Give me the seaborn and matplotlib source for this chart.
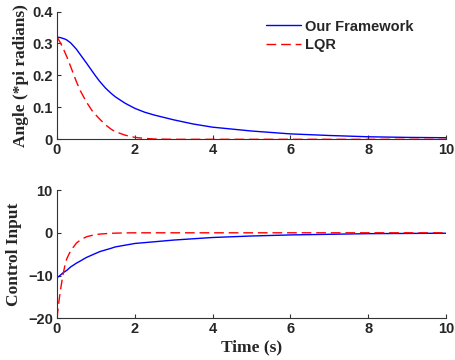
"""Pendulum response: angle and control input, our framework vs LQR."""

import matplotlib

matplotlib.use("Agg")
import matplotlib.pyplot as plt
import pandas as pd
import seaborn as sns

# values
time_s = [0, 0.05, 0.1, 0.15, 0.2, 0.25, 0.35, 0.5, 0.6, 0.75, 0.9, 1.0, 1.1, 1.25,
          1.4, 1.5, 1.75, 2.0, 2.25, 2.5, 3.0, 3.5, 4.0, 5.0, 6.0, 7.0, 8.0, 9.0, 10.0]
angle_ours = [0.320, 0.319, 0.318, 0.316, 0.314, 0.311, 0.302, 0.282, 0.265, 0.240,
              0.214, 0.197, 0.181, 0.160, 0.143, 0.133, 0.113, 0.097, 0.085, 0.076,
              0.061, 0.048, 0.038, 0.026, 0.017, 0.012, 0.008, 0.006, 0.005]
angle_lqr = [0.320, 0.310, 0.299, 0.287, 0.273, 0.259, 0.228, 0.180, 0.152, 0.118,
             0.090, 0.076, 0.063, 0.045, 0.031, 0.024, 0.013, 0.006, 0.003, 0.001,
             0.0, 0.0, 0.0, 0.0, 0.0, 0.0, 0.0, 0.0, 0.0]
control_ours = [-10.5, -10.2, -9.8, -9.4, -9.1, -8.8, -8.0, -7.1, -6.6, -5.8, -5.2,
                -4.8, -4.4, -4.0, -3.6, -3.3, -2.9, -2.5, -2.3, -2.1, -1.7, -1.4,
                -1.1, -0.75, -0.5, -0.35, -0.2, -0.15, -0.1]
control_lqr = [-20.0, -16.0, -12.8, -10.0, -7.8, -6.1, -4.2, -2.4, -1.7, -0.95, -0.6,
               -0.4, -0.3, -0.2, -0.12, -0.08, -0.03, 0.0, 0.0, 0.0, 0.0, 0.0, 0.0,
               0.0, 0.0, 0.0, 0.0, 0.0, 0.0]
series_names = ["Our Framework", "LQR"]

sns.set_style("ticks")
plt.rcParams["font.family"] = ["Liberation Sans", "DejaVu Sans"]
plt.rcParams["font.weight"] = "bold"
plt.rcParams["xtick.direction"] = "in"
plt.rcParams["ytick.direction"] = "in"

angle_df = pd.DataFrame({
    "time": time_s * 2,
    "value": angle_ours + angle_lqr,
    "method": [series_names[0]] * len(time_s) + [series_names[1]] * len(time_s),
})
control_df = pd.DataFrame({
    "time": time_s * 2,
    "value": control_ours + control_lqr,
    "method": [series_names[0]] * len(time_s) + [series_names[1]] * len(time_s),
})

palette = {"Our Framework": "#0000ff", "LQR": "#ff0000"}
dashes = {"Our Framework": "", "LQR": (7, 3.5)}
serif = {"family": "Liberation Serif", "fontsize": 12.5, "fontweight": "bold"}

fig = plt.figure(figsize=(4.56, 3.6), dpi=100)
ax_top = fig.add_axes([0.125, 0.613, 0.853, 0.355])
ax_bot = fig.add_axes([0.125, 0.116, 0.853, 0.356])

for ax, df in [(ax_top, angle_df), (ax_bot, control_df)]:
    sns.lineplot(data=df, x="time", y="value", hue="method", style="method",
                 palette=palette, dashes=dashes, linewidth=1.0, ax=ax,
                 legend=(ax is ax_top))
    ax.set_xlim(0, 10)
    ax.set_xticks([0, 2, 4, 6, 8, 10])
    ax.tick_params(labelsize=10.5, length=3, width=0.8, color="#333333", pad=3)
    for side in ["top", "right"]:
        ax.spines[side].set_visible(False)
    for side in ["left", "bottom"]:
        ax.spines[side].set_color("#333333")
        ax.spines[side].set_linewidth(0.8)
    ax.set_xlabel("")

ax_top.set_ylim(0, 0.4)
ax_top.set_yticks([0, 0.1, 0.2, 0.3, 0.4])
ax_top.set_yticklabels(["0", "0.1", "0.2", "0.3", "0.4"])
ax_top.set_ylabel("Angle (*pi radians)", labelpad=2, **serif)

ax_bot.set_ylim(-20, 10)
ax_bot.set_yticks([-20, -10, 0, 10])
ax_bot.set_yticklabels(["\u221220", "\u221210", "0", "10"])
ax_bot.set_ylabel("Control Input", labelpad=4, **serif)
ax_bot.set_xlabel("Time (s)", labelpad=2, **serif)

ax_top.legend(title=None, frameon=False, loc="upper right", fontsize=10.5,
              handlelength=2.4, handletextpad=0.3, labelspacing=0.3,
              bbox_to_anchor=(0.95, 1.04))

fig.savefig("out.png", dpi=100)
